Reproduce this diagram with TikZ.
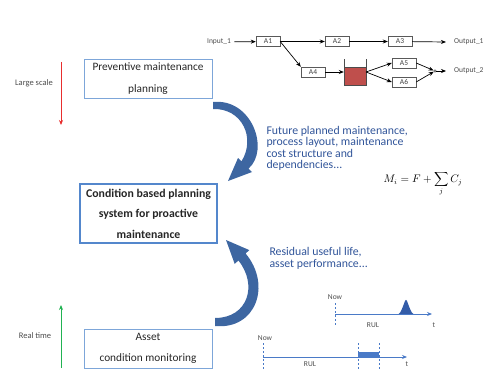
\documentclass[tikz,border=0pt]{standalone}
\usepackage{fontspec}
\setmainfont{Carlito}
\usetikzlibrary{arrows.meta,positioning}
\definecolor{BoxClr}{rgb}{0.49,0.65,0.85}
\definecolor{FrameClr}{rgb}{0.33,0.53,0.80}
\definecolor{CurveClr}{rgb}{0.24,0.40,0.63}
\definecolor{NoteClr}{rgb}{0.19,0.33,0.60}
\definecolor{AxisClr}{rgb}{0.29,0.48,0.78}
\definecolor{PeakClr}{rgb}{0.20,0.36,0.66}
\definecolor{BufferClr}{rgb}{0.75,0.31,0.30}
\definecolor{ScaleClr}{rgb}{0.91,0.18,0.18}
\definecolor{TimeClr}{rgb}{0.13,0.70,0.32}

\begin{document}
\begin{tikzpicture}[x=1pt,y=-1pt,
  block/.style={draw=BoxClr,line width=0.8pt,minimum width=128pt,minimum height=39pt,align=center,text=black!85,font=\fontsize{11.3}{21.5}\selectfont},
  act/.style={draw=black!65,minimum width=24pt,minimum height=10pt,inner sep=0pt,text=black!75,font=\fontsize{7.5}{8}\selectfont},
  tag/.style={text=black!70,font=\fontsize{8.5}{9}\selectfont},
  flow/.style={-{Stealth[length=5pt,width=4pt]},line width=0.7pt},
  note/.style={align=left,anchor=west,text=NoteClr,font=\fontsize{11.8}{11.5}\selectfont},
  axis/.style={-{Stealth[length=5pt,width=4pt]},draw=AxisClr,line width=0.9pt},
  nowline/.style={draw=AxisClr,dash pattern=on 2pt off 2pt,line width=0.6pt},
  time/.style={text=black!70,font=\fontsize{7.5}{8}\selectfont}]
\clip (0,0) rectangle (488,369);

\node[block] (prev) at (148,78.5) {Preventive maintenance\\planning};
\node[block,draw=FrameClr,line width=1.2pt,minimum width=137pt,minimum height=59pt,font=\fontsize{11.8}{20.5}\selectfont\bfseries] (cbm) at (148.5,213.5) {Condition based planning\\system for proactive\\maintenance};
\node[block] (acm) at (148,348.5) {Asset\\condition monitoring};

\coordinate (ls1) at (61,62); \coordinate (ls2) at (61,125);
\coordinate (rt1) at (61,368); \coordinate (rt2) at (61,305);
\draw[-{Stealth[length=5pt,width=4pt]},ScaleClr,line width=0.8pt] (ls1) -- (ls2);
\draw[-{Stealth[length=5pt,width=4pt]},TimeClr,line width=0.8pt] (rt1) -- (rt2);
\node[tag] (large) at (34,83) {Large scale};
\node[tag] (real) at (35,336) {Real time};

\node[tag,font=\fontsize{7.5}{8}\selectfont] (in1) at (219,42) {Input\_1};
\node[act] (A1) at (268,41.5) {A1};
\node[act] (A2) at (337,41.5) {A2};
\node[act] (A3) at (400,41.5) {A3};
\node[act] (A4) at (313,72) {A4};
\node[act] (A5) at (404,63) {A5};
\node[act] (A6) at (404,82) {A6};
\node[draw=black!70,fill=BufferClr,minimum width=22pt,minimum height=18pt,inner sep=0pt] (buf) at (355,76) {};
\draw[black!70,line width=0.6pt] (buf.north west) -- ++(0,-8) (buf.north east) -- ++(0,-8);
\coordinate (split) at (366,72);
\node[circle,draw=black!70,inner sep=0.9pt] (join) at (435,71) {};
\node[tag,anchor=west,inner xsep=8pt,font=\fontsize{7.5}{8}\selectfont] (out1) at (446,42) {Output\_1};
\node[tag,anchor=west,inner xsep=8pt,font=\fontsize{7.5}{8}\selectfont] (out2) at (446,71) {Output\_2};

\draw[flow] (in1) -- (A1);
\draw[flow] (A1) -- (A2);
\draw[flow] (A2) -- (A3);
\draw[flow] (A3) -- (out1.west);
\draw[flow] (A1.east) -- (A4.north west);
\draw[flow] (A4.east) -- (A4.east -| buf.west);
\draw[flow] (split) -- (A5.west);
\draw[flow] (split) -- (A6.west);
\draw[flow] (A5.east) -- (join);
\draw[flow] (A6.east) -- (join);
\draw[flow] (join) -- (out2.west);

\fill[CurveClr] (213,102) .. controls (252,98) and (270,150) .. (248.5,168.6) -- (252,172) -- (228,181) -- (238,158) -- (241.5,161.3) .. controls (256,138) and (242,108) .. (213,109) -- cycle;
\fill[CurveClr] (215,326) .. controls (256,330) and (272,285) .. (245.6,253.5) -- (249.3,250.1) -- (226,240) -- (234.7,263.9) -- (238.4,260.5) .. controls (258,285) and (248,318) .. (215,318) -- cycle;

\node[note] (fut) at (263,148.5) {Future planned maintenance,\\process layout, maintenance\\cost structure and\\dependencies...};
\node[note] (rul) at (266,258.5) {Residual useful life,\\asset performance...};
\node (cost) at (423,184) {\fontsize{10.5}{12}\selectfont$\displaystyle M_i = F + \sum_j C_j$};

\coordinate (now1) at (335,314); \coordinate (t1) at (432,314);
\draw[nowline] (335,303) -- (335,325);
\fill[PeakClr] (398.5,314) .. controls (401,313) and (403,306) .. (405,301) .. controls (405.7,299.5) and (406.3,299.5) .. (407,301) .. controls (409,306) and (411,313) .. (413.5,314) -- cycle;
\draw[axis] (now1) -- (t1);
\node[time] (n1) at (335,297) {Now};
\node[time] (r1) at (373,325) {RUL};
\node[time] (x1) at (434,325) {t};

\coordinate (now2) at (263,357); \coordinate (t2) at (407,357);
\draw[nowline] (263,343) -- (263,369) (358,343) -- (358,369) (379,343) -- (379,369);
\fill[AxisClr] (358,352) rectangle (379,357);
\draw[axis] (now2) -- (t2);
\node[time] (n2) at (265,338) {Now};
\node[time] (r2) at (310,364.5) {RUL};
\node[time] (x2) at (407,364.5) {t};
\end{tikzpicture}
\end{document}
